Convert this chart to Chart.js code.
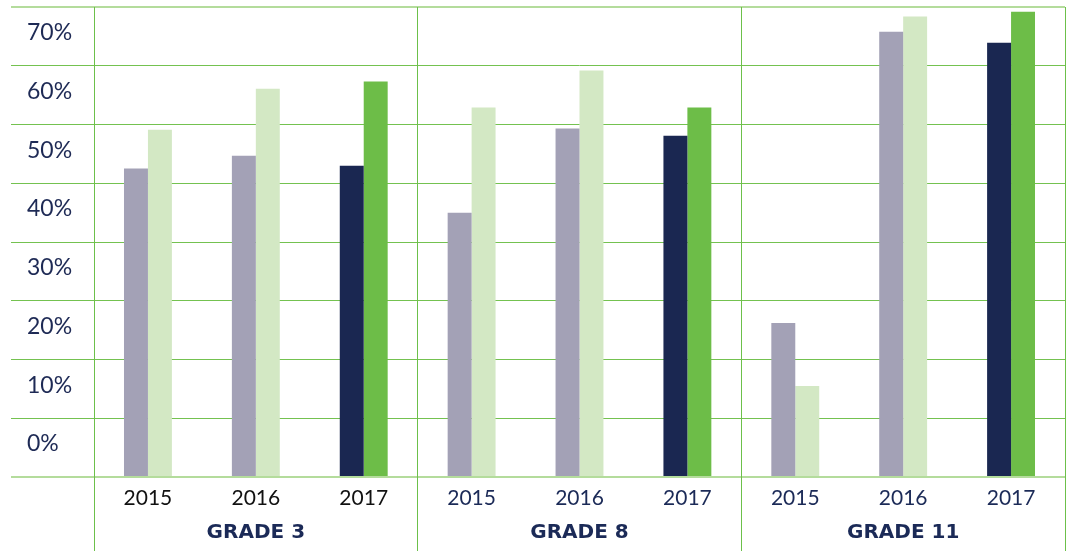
<!DOCTYPE html>
<html>
<head>
<meta charset="utf-8">
<script src="https://cdn.jsdelivr.net/npm/chart.js@4"></script>
<style>
  body { margin: 0; background: #fff; }
  #wrap { width: 1069px; height: 551px; }
</style>
</head>
<body>
<div id="wrap"><canvas id="gradeChart"></canvas></div>
<script>
// Categories
const years = ['2015', '2016', '2017', '2015', '2016', '2017', '2015', '2016', '2017'];
const grades = ['GRADE 3', 'GRADE 8', 'GRADE 11'];

// Series values (percent)
const firstSeries = [52.5, 54.7, 53.0, 45.0, 59.3, 58.1, 26.2, 75.8, 73.9];
const secondSeries = [59.1, 66.1, 67.3, 62.9, 69.2, 62.9, 15.5, 78.4, 79.2];

// Y tick values
const yMin = 0;
const yMax = 80;
const yStep = 10;

const navy = '#1b2a57';
const lineGreen = '#6cc04a';

// 2017 bars are darker than the earlier years
function firstColor(ctx) {
    return years[ctx.dataIndex] === '2017' ? '#1a2751' : '#a3a1b6';
}
function secondColor(ctx) {
    return years[ctx.dataIndex] === '2017' ? '#6dbd48' : '#d3e8c4';
}

// outer horizontal lines are lighter and thicker
function isEdge(c) {
    return c.index === 0 || c.index === (yMax - yMin) / yStep;
}

const ctx = document.getElementById('gradeChart').getContext('2d');
new Chart(ctx, {
    type: 'bar',
    data: {
        labels: years,
        datasets: [
            { label: 'First', data: firstSeries, backgroundColor: firstColor },
            { label: 'Second', data: secondSeries, backgroundColor: secondColor }
        ]
    },
    options: {
        responsive: true,
        maintainAspectRatio: false,
        animation: false,
        categoryPercentage: 0.444,
        barPercentage: 1,
        layout: { padding: { left: 27, right: 4, top: 7, bottom: 0 } },
        plugins: {
            legend: { display: false },
            tooltip: { enabled: false }
        },
        scales: {
            y: {
                min: yMin,
                max: yMax,
                border: { display: false },
                grid: {
                    color: c => isEdge(c) ? '#b4dc9c' : '#74c250',
                    lineWidth: c => isEdge(c) ? 2 : 1,
                    tickLength: 83
                },
                ticks: {
                    stepSize: yStep,
                    crossAlign: 'far',
                    padding: 0,
                    labelOffset: -33,
                    color: '#1e2a55',
                    font: { family: 'Lato', size: 23, lineHeight: 0.5 },
                    callback: v => v === yMax ? '' : v + '%'
                },
                afterFit: s => { s.width = 67; }
            },
            x: {
                border: { display: false },
                grid: {
                    offset: true,
                    color: c => (c.type === 'tick' && c.index % 3 !== 0) ? 'rgba(0,0,0,0)' : lineGreen,
                    lineWidth: 1,
                    tickLength: 74
                },
                ticks: {
                    padding: -65,
                    color: c => c.index < 3 ? '#111' : navy,
                    font: { family: 'Lato', size: 21 },
                    maxRotation: 0,
                    autoSkip: false
                },
                afterFit: s => { s.height = 35; }
            },
            x2: {
                type: 'category',
                position: 'bottom',
                labels: grades,
                offset: true,
                border: { display: false },
                grid: { display: false },
                ticks: {
                    padding: 1,
                    color: navy,
                    font: { family: 'DejaVu Sans', size: 20, weight: 'bold' },
                    maxRotation: 0
                },
                afterFit: s => { s.height = 39; }
            }
        }
    }
});
</script>
</body>
</html>
